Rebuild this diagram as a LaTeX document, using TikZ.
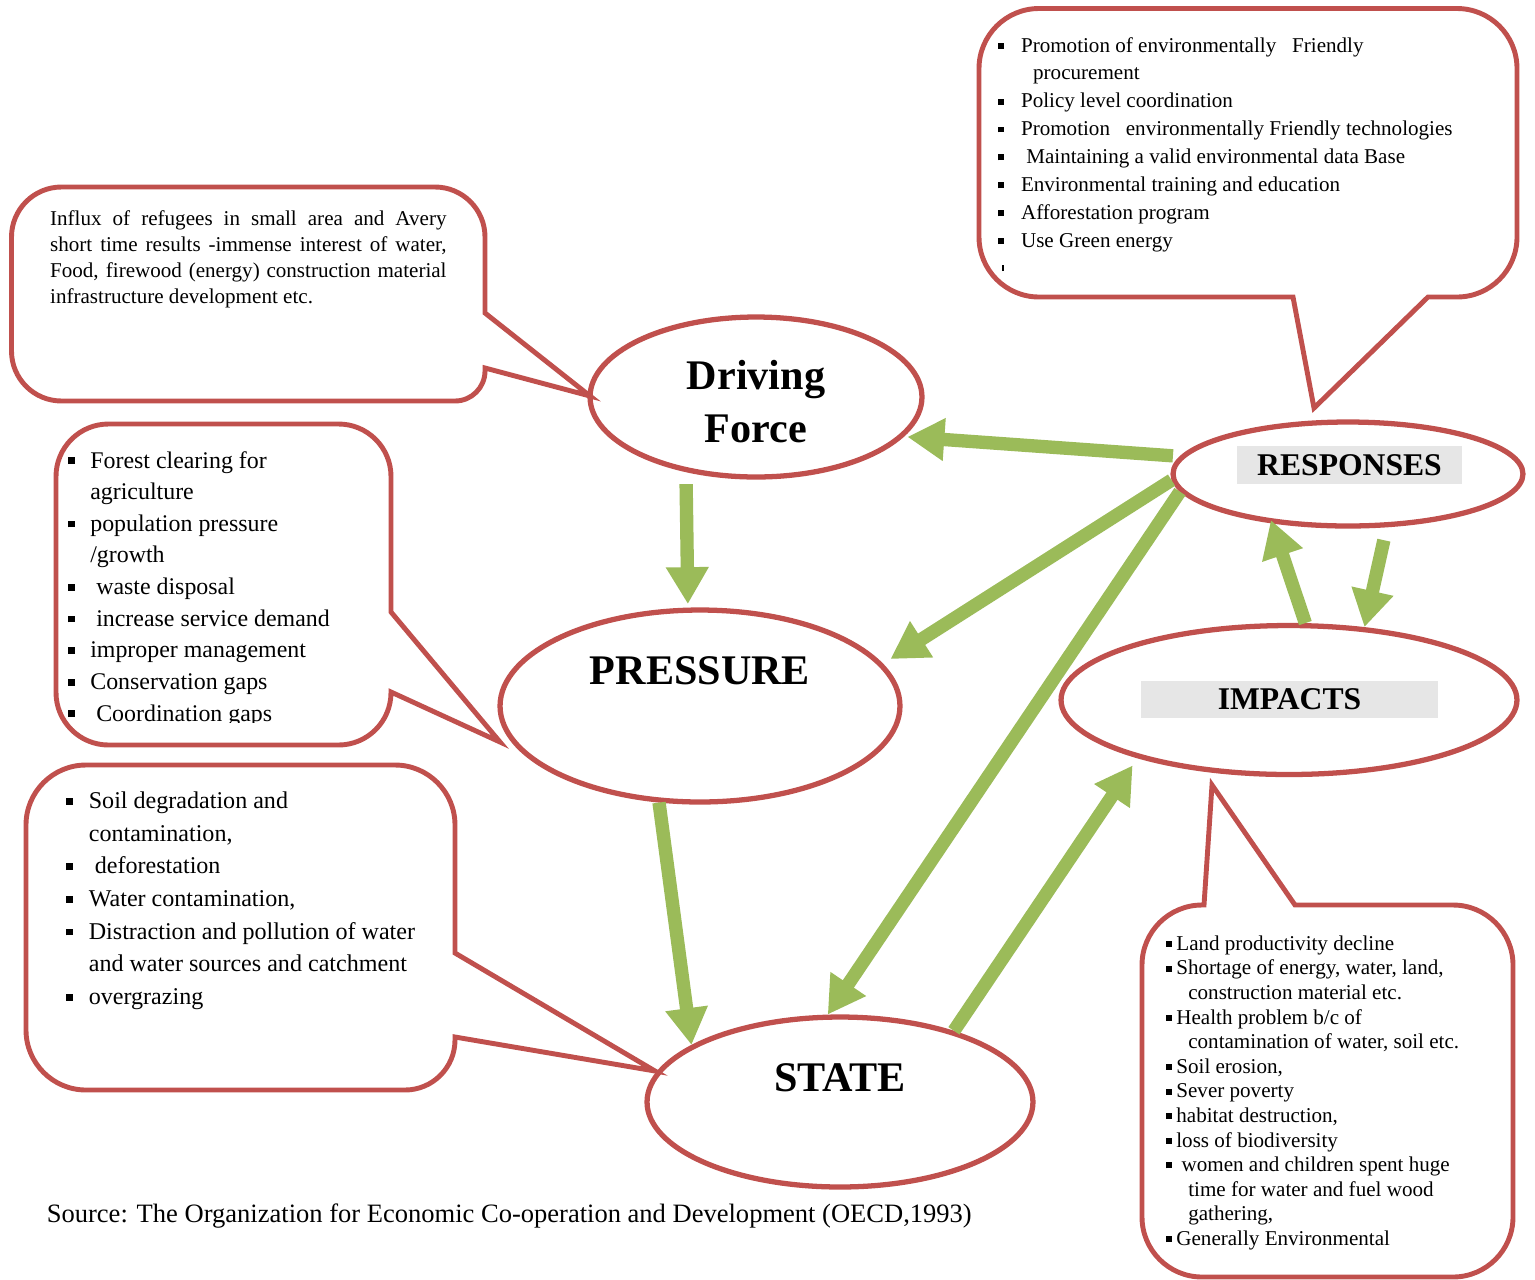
\documentclass[tikz,border=0pt]{standalone}
\usepackage{fontspec}
\setmainfont{Liberation Serif}
\usetikzlibrary{shapes.geometric,arrows.meta}
\definecolor{bred}{HTML}{C0504D}
\definecolor{bgreen}{HTML}{9BBB59}
\definecolor{lgray}{HTML}{E6E6E6}
\newcommand{\sqbul}[1]{\makebox[#1][l]{\rule[0.16em]{0.28em}{0.28em}}}

\begin{document}
\begin{tikzpicture}[x=0.02cm,y=-0.02cm,
  oval/.style={ellipse,draw=bred,line width=3pt,inner sep=0pt},
  bubble/.style={draw=bred,line width=2.8pt},
  flow/.style={draw=bgreen,line width=7.6pt,-{Triangle[length=21pt,width=23pt]}},
  note/.style={anchor=north west,inner sep=0pt,align=left},
  lbl/.style={font=\fontsize{24}{30}\selectfont\bfseries},
  tag/.style={fill=lgray,inner sep=0pt,font=\fontsize{18}{22}\selectfont\bfseries}]
\useasboundingbox (0,0) rectangle (1535,1279);

% call-outs
\draw[bubble] (590,396) -- (485,313) [rounded corners=1cm] -- (485,187) -- (11.5,187) -- (11.5,401) [rounded corners=0.6cm] -- (485,401) [sharp corners] -- (485,368) -- cycle;
\draw[bubble] (1314,408) -- (1428,297) [rounded corners=1.2cm] -- (1517,297) -- (1517,8.5) -- (979,8.5) -- (979,297) [sharp corners] -- (1293,297) -- cycle;
\draw[bubble] (500,742) -- (391,692) [rounded corners=1.05cm] -- (391,745) -- (56,745) -- (56,424) -- (391,424) [sharp corners] -- (391,612) -- cycle;
\draw[bubble] (655,1071) -- (455,1037) [rounded corners=1cm] -- (455,1090) [rounded corners=1.2cm] -- (26,1090) -- (26,765) -- (455,765) [sharp corners] -- (455,953) -- cycle;
\draw[bubble] (1212,785) -- (1295,905) [rounded corners=1.2cm] -- (1513,905) -- (1513,1277) -- (1142,1277) -- (1142,905) [sharp corners] -- (1204,905) -- cycle;

% ovals
\node[oval,minimum width=6.64cm,minimum height=3.2cm] (df) at (756,397) {};
\node[oval,minimum width=8cm,minimum height=3.84cm] (pr) at (700,706) {};
\node[oval,minimum width=7.72cm,minimum height=3.4cm] (st) at (840,1102) {};
\node[oval,minimum width=7cm,minimum height=2.08cm] (rs) at (1348,474) {};
\node[oval,minimum width=9.12cm,minimum height=2.98cm] (im) at (1289,700) {};

\node[lbl,align=center] (df-txt) at (756,405.8) {\strut Driving\\\strut Force};
\node[lbl,anchor=base] (pr-txt) at (700,684) {PRESSURE};
\node[lbl,anchor=base] (st-txt) at (840,1091) {STATE};
\node[tag,minimum width=4.5cm,minimum height=0.76cm] (rs-txt) at (1349.5,465) {RESPONSES};
\node[tag,minimum width=5.94cm,minimum height=0.74cm] (im-txt) at (1289.5,699.5) {IMPACTS};

% arrows
\draw[flow,shorten <=6.8pt,shorten >=2pt] (df.227) -- (pr.97.1);
\draw[flow,shorten <=4pt,shorten >=2pt] (rs.174.5) -- (df.345);
\draw[flow,shorten >=5pt] (rs.182) -- (pr.13.2);
\draw[flow] (rs.186.7) -- (st.98.9);
\draw[flow] (pr.247) -- (st.159.2);
\draw[flow,shorten >=5pt] (st.32) -- (im.201.9);
\draw[flow,shorten >=-2pt] (im.78) -- (rs.213.7);
\draw[flow,shorten <=7.5pt] (rs.306.5) -- (im.44.6);

% texts
\node[note,text width=7.93cm,align=justify,font=\fontsize{12}{14.8}\selectfont] (df-note) at (49.8,206.7)
  {\strut Influx of refugees in small area and Avery\linebreak short time results -immense interest of water,\linebreak Food, firewood (energy) construction material\linebreak infrastructure development etc.};

\node[note,font=\fontsize{12}{15.9}\selectfont] (rs-note) at (998,32.1) {\strut\sqbul{12.9pt}Promotion of environmentally\ \ \ Friendly\\
  \hspace*{19.8pt}procurement\\
  \sqbul{12.9pt}Policy level coordination\\
  \sqbul{12.9pt}Promotion\ \ \ environmentally Friendly technologies\\
  \sqbul{12.9pt}\ Maintaining a valid environmental data Base\\
  \sqbul{12.9pt}Environmental training and education\\
  \sqbul{12.9pt}Afforestation program\\
  \sqbul{12.9pt}Use Green energy\\
  \hspace*{2pt}\rule[2.5pt]{1pt}{3.5pt}};

\begin{scope}
\clip (40,430) rectangle (400,722);
\node[note,font=\fontsize{13.6}{18}\selectfont] (pr-note) at (68,445.5) {\strut\sqbul{12.5pt}Forest clearing for\\
  \hspace*{12.5pt}agriculture\\
  \sqbul{12.5pt}population pressure\\
  \hspace*{12.5pt}/growth\\
  \sqbul{12.5pt}\ waste disposal\\
  \sqbul{12.5pt}\ increase service demand\\
  \sqbul{12.5pt}improper management\\
  \sqbul{12.5pt}Conservation gaps\\
  \sqbul{12.5pt}\ Coordination gaps};
\end{scope}

\node[note,font=\fontsize{13.7}{18.6}\selectfont] (st-note) at (66,785.3) {\strut\sqbul{12.8pt}Soil degradation and\\
  \hspace*{12.8pt}contamination,\\
  \sqbul{12.8pt}\ deforestation\\
  \sqbul{12.8pt}Water contamination,\\
  \sqbul{12.8pt}Distraction and pollution of water\\
  \hspace*{12.8pt}and water sources and catchment\\
  \sqbul{12.8pt}overgrazing};

\node[note,font=\fontsize{12}{14}\selectfont] (im-note) at (1166,932.7) {\strut\sqbul{5.7pt}Land productivity decline\\
  \sqbul{5.7pt}Shortage of energy, water, land,\\
  \hspace*{12.5pt}construction material etc.\\
  \sqbul{5.7pt}Health problem b/c of\\
  \hspace*{12.5pt}contamination of water, soil etc.\\
  \sqbul{5.7pt}Soil erosion,\\
  \sqbul{5.7pt}Sever poverty\\
  \sqbul{5.7pt}habitat destruction,\\
  \sqbul{5.7pt}loss of biodiversity\\
  \sqbul{5.7pt}\ women and children spent huge\\
  \hspace*{12.5pt}time for water and fuel wood\\
  \hspace*{12.5pt}gathering,\\
  \sqbul{5.7pt}Generally Environmental};

\node[anchor=base west,inner sep=0pt,font=\fontsize{15.1}{18}\selectfont] (src) at (46.5,1222)
  {Source: The Organization for Economic Co-operation and Development (OECD,1993)};
\end{tikzpicture}
\end{document}
